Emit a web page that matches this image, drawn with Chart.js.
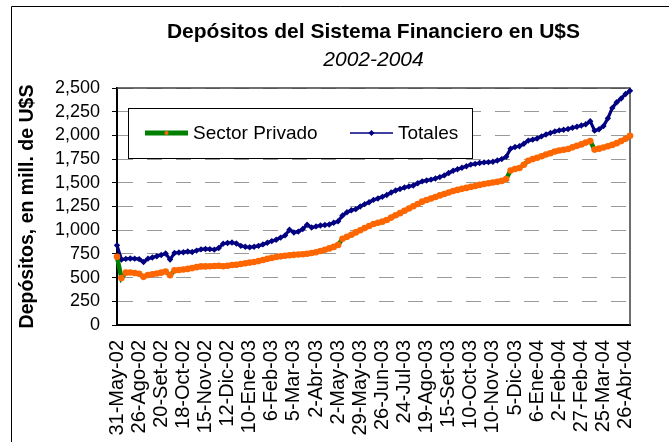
<!DOCTYPE html>
<html>
<head>
<meta charset="utf-8">
<script src="https://cdn.jsdelivr.net/npm/chart.js@4"></script>
<style>
  html, body { margin: 0; padding: 0; background: #fff; }
  #wrap { width: 669px; height: 442px; }
</style>
</head>
<body>
<div id="wrap"><canvas id="depositosChart"></canvas></div>
<script>
// tick labels, one every 5 observations
const tickLabels = ['31-May-02', '26-Ago-02', '20-Set-02', '18-Oct-02', '15-Nov-02', '12-Dic-02',
  '10-Ene-03', '6-Feb-03', '5-Mar-03', '2-Abr-03', '2-May-03', '29-May-03', '26-Jun-03',
  '24-Jul-03', '19-Ago-03', '15-Set-03', '10-Oct-03', '10-Nov-03', '5-Dic-03', '6-Ene-04',
  '2-Feb-04', '27-Feb-04', '25-Mar-04', '26-Abr-04'];
const labelStep = 5;

// millones de U$S
const sectorPrivado = [
  720, 495, 552, 554, 548, 540, 508, 528, 535, 543,
  552, 565, 525, 576, 580, 585, 592, 600, 610, 618,
  618, 620, 622, 625, 620, 625, 633, 636, 643, 652,
  658, 665, 674, 686, 698, 708, 717, 724, 730, 735,
  740, 744, 747, 752, 759, 767, 780, 793, 808, 824,
  845, 910, 930, 952, 977, 1000, 1022, 1045, 1065, 1078,
  1090, 1108, 1133, 1157, 1180, 1205, 1229, 1253, 1277, 1301,
  1318, 1335, 1351, 1367, 1382, 1398, 1413, 1425, 1436, 1446,
  1457, 1467, 1478, 1488, 1496, 1503, 1510, 1520, 1540, 1630,
  1645, 1656, 1690, 1732, 1750, 1765, 1780, 1798, 1812, 1830,
  1840, 1848, 1857, 1874, 1890, 1905, 1924, 1940, 1850, 1860,
  1873, 1886, 1900, 1918, 1940, 1965, 1995
];
const totales = [
  840, 690, 698, 702, 700, 695, 665, 700, 712, 725,
  738, 755, 690, 760, 764, 768, 776, 770, 785, 798,
  802, 800, 795, 812, 858, 865, 870, 860, 835, 825,
  820, 826, 835, 850, 867, 885, 900, 922, 945, 1005,
  975, 985, 1013, 1057, 1028, 1040, 1050, 1055, 1060, 1078,
  1094, 1155, 1190, 1210, 1222, 1250, 1275, 1295, 1320, 1335,
  1352, 1372, 1398, 1418, 1435, 1450, 1462, 1472, 1495, 1515,
  1525, 1533, 1545, 1560, 1578, 1603, 1627, 1643, 1659, 1675,
  1692, 1700, 1709, 1715, 1718, 1722, 1735, 1750, 1775, 1860,
  1878, 1886, 1912, 1945, 1955, 1967, 1990, 2010, 2025, 2042,
  2053, 2060, 2068, 2080, 2092, 2105, 2118, 2150, 2050, 2065,
  2098, 2180, 2290, 2350, 2390, 2436, 2470
];

const categories = totales.map((v, i) => i % labelStep === 0 ? (tickLabels[i / labelStep] || '') : '');

Chart.defaults.font.family = "'Liberation Sans', Arial, sans-serif";
Chart.defaults.color = '#000';

// outer frame + top/right border of the plot area
const frame = {
  id: 'frame',
  beforeDraw(chart) {
    const ctx = chart.ctx;
    ctx.save();
    ctx.strokeStyle = '#000';
    ctx.lineWidth = 1;
    ctx.beginPath();
    ctx.moveTo(11.5, chart.height);
    ctx.lineTo(11.5, 6.5);
    ctx.lineTo(chart.width, 6.5);
    ctx.stroke();
    ctx.restore();
  },
  beforeDatasetsDraw(chart) {
    const {left, top, right, bottom} = chart.chartArea;
    const ctx = chart.ctx;
    ctx.save();
    ctx.strokeStyle = '#404040';
    ctx.lineWidth = 1.5;
    ctx.beginPath();
    ctx.moveTo(left, top);
    ctx.lineTo(right, top);
    ctx.lineTo(right, bottom);
    ctx.stroke();
    ctx.restore();
  }
};

// boxed legend inside the plot, like the Excel one
const boxLegend = {
  id: 'boxLegend',
  afterDatasetsDraw(chart, args, opts) {
    const ctx = chart.ctx;
    const cy = opts.y + opts.h / 2;
    ctx.save();
    ctx.fillStyle = '#fff';
    ctx.fillRect(opts.x, opts.y, opts.w, opts.h);
    ctx.strokeStyle = '#000';
    ctx.lineWidth = 1;
    ctx.strokeRect(opts.x + 0.5, opts.y + 0.5, opts.w, opts.h);
    ctx.font = opts.font;
    ctx.textBaseline = 'middle';
    chart.data.datasets.forEach((ds, i) => {
      const x0 = opts.items[i];
      ctx.strokeStyle = ds.borderColor;
      ctx.lineWidth = opts.lineWidths[i];
      ctx.beginPath();
      ctx.moveTo(x0, cy);
      ctx.lineTo(x0 + opts.sample, cy);
      ctx.stroke();
      const mx = x0 + opts.sample / 2;
      const r = opts.markerRadius[i];
      ctx.fillStyle = ds.pointBackgroundColor;
      ctx.beginPath();
      if (ds.pointStyle === 'rectRot') {
        ctx.moveTo(mx, cy - r);
        ctx.lineTo(mx + r, cy);
        ctx.lineTo(mx, cy + r);
        ctx.lineTo(mx - r, cy);
        ctx.closePath();
      } else {
        ctx.arc(mx, cy, r, 0, Math.PI * 2);
      }
      ctx.fill();
      ctx.fillStyle = '#000';
      ctx.fillText(ds.label, x0 + opts.sample + 5, cy + 1);
    });
    ctx.restore();
  }
};

new Chart(document.getElementById('depositosChart'), {
  type: 'line',
  data: {
    labels: categories,
    datasets: [
      {
        label: 'Sector Privado',
        data: sectorPrivado,
        borderColor: '#008000',
        borderWidth: 4.5,
        pointStyle: 'circle',
        pointRadius: 3.3,
        pointBackgroundColor: '#ff6600',
        pointBorderColor: '#ff6600',
        pointBorderWidth: 0,
        tension: 0
      },
      {
        label: 'Totales',
        data: totales,
        borderColor: '#000080',
        borderWidth: 3.2,
        pointStyle: 'rectRot',
        pointRadius: 3.2,
        pointBackgroundColor: '#000080',
        pointBorderColor: '#000080',
        pointBorderWidth: 0,
        tension: 0
      }
    ]
  },
  options: {
    responsive: true,
    maintainAspectRatio: false,
    animation: false,
    events: [],
    layout: { padding: { left: 0, right: 25, top: 0, bottom: 0 } },
    scales: {
      x: {
        type: 'category',
        offset: false,
        grid: { display: false, drawTicks: false },
        border: { display: true, color: '#000', width: 2 },
        ticks: {
          autoSkip: false,
          minRotation: 90,
          maxRotation: 90,
          padding: 15,
          font: { size: 20 },
          color: '#000'
        },
        afterFit(scale) { scale.height = 117; }
      },
      y: {
        min: 0,
        max: 2500,
        grid: { color: '#9a9a9a', lineWidth: 1, tickColor: '#000', tickLength: 5, tickBorderDash: [] },
        border: { color: '#000', width: 2, dash: [15, 14] },
        ticks: {
          stepSize: 250,
          autoSkip: false,
          padding: 12,
          font: { size: 18 },
          color: '#000',
          callback: v => v.toLocaleString('en-US')
        },
        title: {
          display: true,
          text: 'Depósitos, en mill. de U$S',
          font: { size: 19.5, weight: 'bold' },
          color: '#000',
          padding: { top: 16, bottom: 0 }
        },
        afterFit(scale) { scale.width = 117; }
      }
    },
    plugins: {
      legend: { display: false },
      tooltip: { enabled: false },
      title: {
        display: true,
        fullSize: false,
        text: 'Depósitos del Sistema Financiero en U$S',
        font: { size: 21, weight: 'bold' },
        color: '#000',
        padding: { top: 20, bottom: 2 }
      },
      subtitle: {
        display: true,
        fullSize: false,
        text: '2002-2004',
        font: { size: 21, style: 'italic', weight: 'normal' },
        color: '#000',
        padding: { top: 0, bottom: 15.6 }
      },
      boxLegend: {
        x: 128, y: 108, w: 344, h: 50,
        items: [145, 350],
        sample: 43,
        lineWidths: [5, 1.5],
        markerRadius: [2, 3],
        font: "19px 'Liberation Sans', Arial, sans-serif"
      }
    }
  },
  plugins: [frame, boxLegend]
});
</script>
</body>
</html>
